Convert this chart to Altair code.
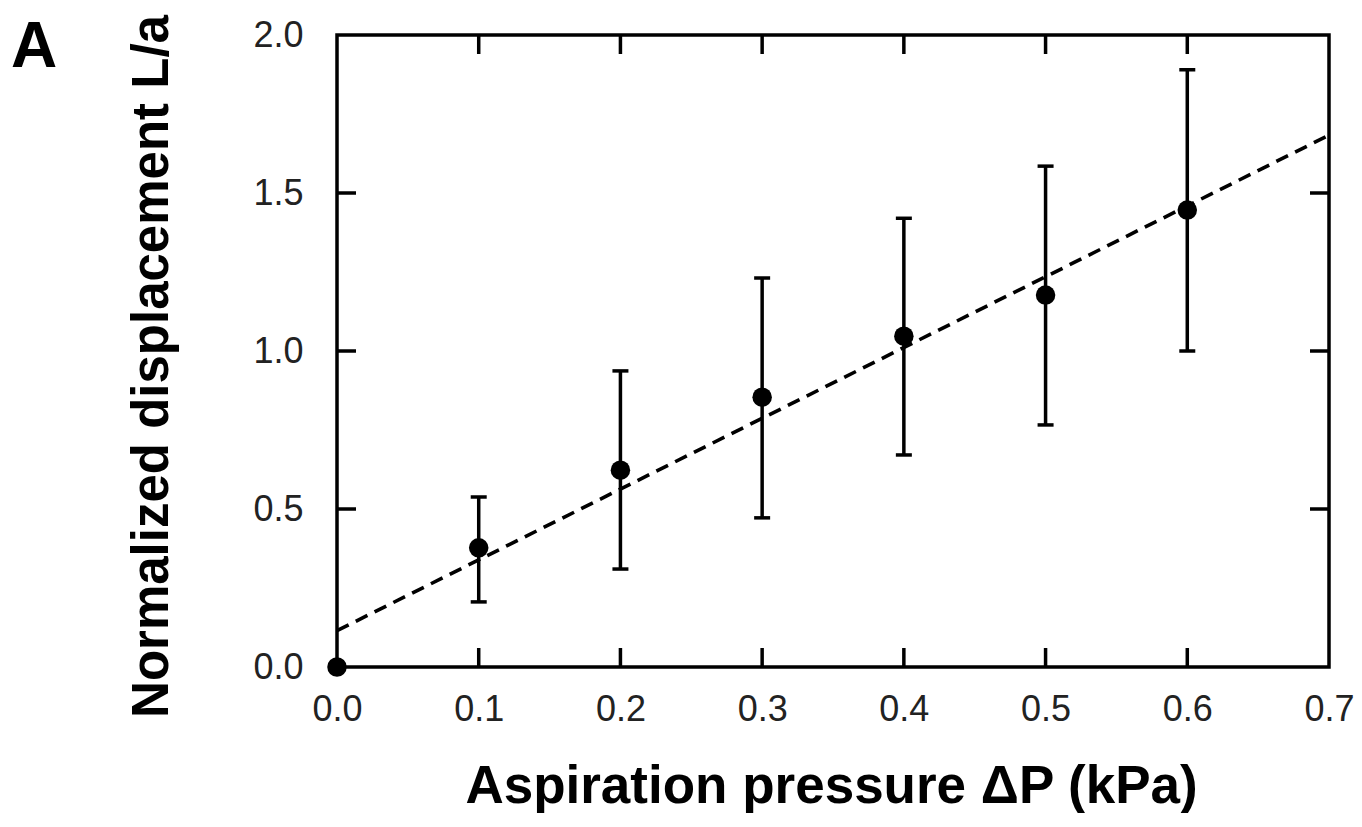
import altair as alt
import pandas as pd

# data
pressure = [0.0, 0.1, 0.2, 0.3, 0.4, 0.5, 0.6]
displacement = [0.0, 0.377, 0.623, 0.854, 1.047, 1.177, 1.446]
err_low = [0.0, 0.206, 0.310, 0.472, 0.671, 0.766, 1.000]
err_high = [0.0, 0.538, 0.937, 1.231, 1.420, 1.585, 1.890]

fit_x = [0.0, 0.7]
fit_y = [0.115, 1.683]

x_ticks = [0.0, 0.1, 0.2, 0.3, 0.4, 0.5, 0.6, 0.7]
y_ticks = [0.0, 0.5, 1.0, 1.5, 2.0]

pts = pd.DataFrame({"p": pressure, "d": displacement, "lo": err_low, "hi": err_high})
err = pts[pts["p"] > 0]
fit = pd.DataFrame({"p": fit_x, "d": fit_y})
xt = pd.DataFrame({"v": x_ticks[1:-1]})
yt = pd.DataFrame({"v": y_ticks[1:-1]})

W, H = 992, 632
FONT = "Liberation Sans"

xscale = alt.Scale(domain=[0, 0.7], nice=False, zero=False)
yscale = alt.Scale(domain=[0, 2.0], nice=False, zero=False)

xaxis = alt.Axis(
    values=x_ticks, format=".1f", ticks=False, domain=False, grid=False,
    labelFont=FONT, labelFontSize=36, labelColor="#222", labelPadding=25,
    labelFlush=False,
    title="Aspiration pressure ΔP (kPa)", titleFont=FONT, titleFontSize=53,
    titleFontWeight="bold", titleColor="#000", titleX=494, titleY=135,
    titleBaseline="alphabetic", titleAlign="center",
)
yaxis = alt.Axis(
    values=y_ticks, format=".1f", ticks=False, domain=False, grid=False,
    labelFont=FONT, labelFontSize=36, labelColor="#222", labelPadding=34,
    labelFlush=False,
    title="Normalized displacement L/a", titleFont=FONT, titleFontSize=51,
    titleFontWeight="bold", titleColor="#000", titleAngle=270,
    titleX=-170, titleY=331, titleBaseline="alphabetic", titleAlign="center",
)

base_x = alt.X("p:Q", scale=xscale, axis=xaxis)
base_y = alt.Y("d:Q", scale=yscale, axis=yaxis)

LW = 3.5

fit_line = alt.Chart(fit).mark_line(
    color="black", strokeWidth=3.6, strokeDash=[13, 8]
).encode(x=base_x, y=base_y)

bars = alt.Chart(err).mark_rule(color="black", strokeWidth=LW).encode(
    x=alt.X("p:Q", scale=xscale), y=alt.Y("lo:Q", scale=yscale), y2="hi:Q"
)
cap_lo = alt.Chart(err).mark_rule(color="black", strokeWidth=LW, xOffset=-8, x2Offset=8).encode(
    x=alt.X("p:Q", scale=xscale), x2="p:Q", y=alt.Y("lo:Q", scale=yscale)
)
cap_hi = alt.Chart(err).mark_rule(color="black", strokeWidth=LW, xOffset=-8, x2Offset=8).encode(
    x=alt.X("p:Q", scale=xscale), x2="p:Q", y=alt.Y("hi:Q", scale=yscale)
)
points = alt.Chart(pts).mark_circle(color="black", opacity=1, size=380).encode(
    x=alt.X("p:Q", scale=xscale), y=alt.Y("d:Q", scale=yscale)
)

TL = 19
tick_bottom = alt.Chart(xt).mark_rule(color="black", strokeWidth=LW).encode(
    x=alt.X("v:Q", scale=xscale), y=alt.value(H), y2=alt.value(H - TL)
)
tick_top = alt.Chart(xt).mark_rule(color="black", strokeWidth=LW).encode(
    x=alt.X("v:Q", scale=xscale), y=alt.value(0), y2=alt.value(TL)
)
tick_left = alt.Chart(yt).mark_rule(color="black", strokeWidth=LW).encode(
    y=alt.Y("v:Q", scale=yscale), x=alt.value(0), x2=alt.value(TL)
)
tick_right = alt.Chart(yt).mark_rule(color="black", strokeWidth=LW).encode(
    y=alt.Y("v:Q", scale=yscale), x=alt.value(W), x2=alt.value(W - TL)
)

panel = alt.Chart(pd.DataFrame({"t": ["A"]})).mark_text(
    font=FONT, fontSize=64, fontWeight="bold", color="black",
    align="left", baseline="alphabetic"
).encode(text="t:N", x=alt.value(-326), y=alt.value(32))

chart = alt.layer(
    fit_line, bars, cap_lo, cap_hi, points,
    tick_bottom, tick_top, tick_left, tick_right, panel
).properties(
    width=W, height=H,
    autosize=alt.AutoSizeParams(type="none"),
    padding={"left": 329, "top": 27, "right": 25, "bottom": 146},
).configure(
    background="white",
    view=alt.ViewConfig(stroke="black", strokeWidth=3.5),
)

chart.save("out.html", embed_options={"renderer": "svg", "actions": False})
